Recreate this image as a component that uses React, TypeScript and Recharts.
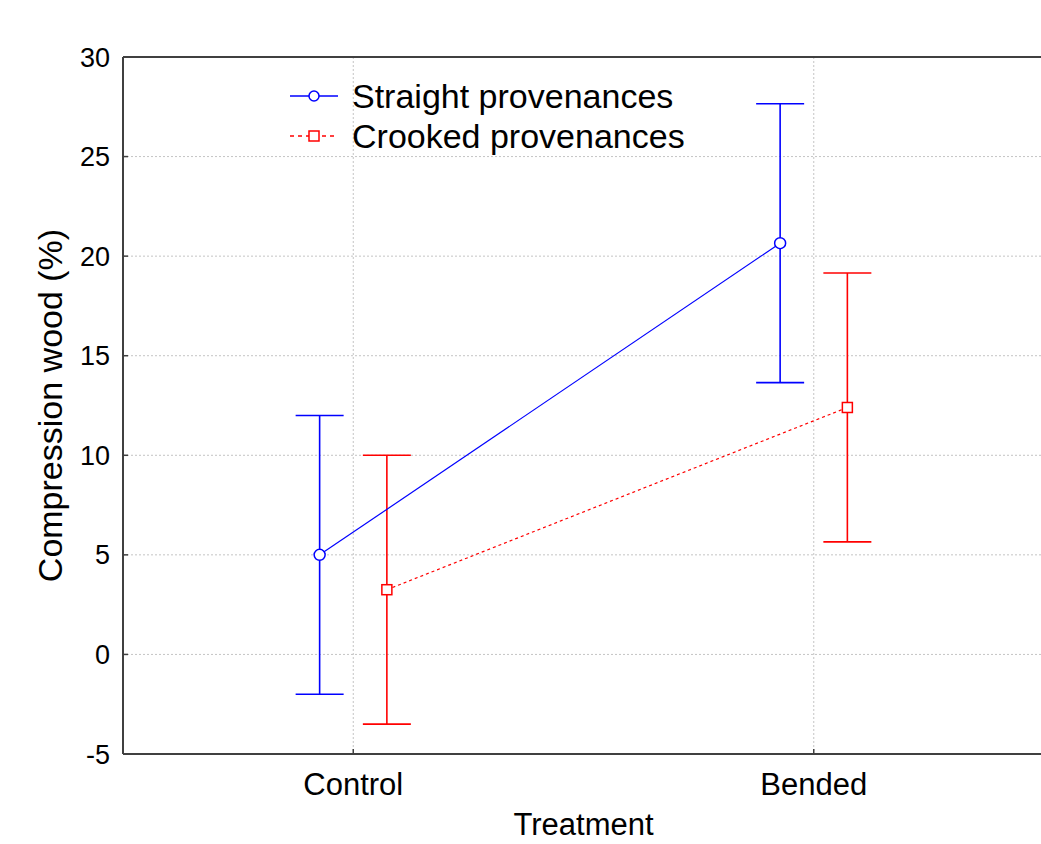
import { CartesianGrid, ComposedChart, ErrorBar, ReferenceLine, Scatter, XAxis, YAxis } from "recharts"

const categories = ["Control", "Bended"]
const straightMeans = [5.0, 20.65]
const straightErr = [7.0, 7.0]
const crookedMeans = [3.25, 12.4]
const crookedErr = [6.75, 6.75]
const yTicks = [-5, 0, 5, 10, 15, 20, 25, 30]
const dodge = 0.073

const straight = categories.map((c, i) => ({ name: c, x: i - dodge, y: straightMeans[i], err: straightErr[i] }))
const crooked = categories.map((c, i) => ({ name: c, x: i + dodge, y: crookedMeans[i], err: crookedErr[i] }))

const BLUE = "#0000ff"
const RED = "#ff0000"
const FONT = "'Liberation Sans', Arial, sans-serif"

const Circle = (props: any) => (
  <circle cx={props.cx} cy={props.cy} r={5.5} fill="#fff" stroke={BLUE} strokeWidth={1.5} />
)
const Square = (props: any) => (
  <rect x={props.cx - 5} y={props.cy - 5} width={10} height={10} fill="#fff" stroke={RED} strokeWidth={1.5} />
)

// legend sits inside the plot, top-left, like the original
function LegendBox() {
  return (
    <svg width={440} height={90} style={{ fontFamily: FONT, position: "absolute", left: 285, top: 74 }}>
      <line x1={5} y1={22} x2={53} y2={22} stroke={BLUE} strokeWidth={1.5} />
      <circle cx={29} cy={22} r={5} fill="#fff" stroke={BLUE} strokeWidth={1.5} />
      <text x={67} y={34} fontSize={34} fill="#000">Straight provenances</text>
      <line x1={5} y1={62} x2={53} y2={62} stroke={RED} strokeWidth={1.5} strokeDasharray="4 4" />
      <rect x={24} y={57} width={10} height={10} fill="#fff" stroke={RED} strokeWidth={1.5} />
      <text x={67} y={74} fontSize={34} fill="#000">Crooked provenances</text>
    </svg>
  )
}

export default function App() {
  return (
    <div style={{ position: "absolute", left: 0, top: 0, width: 1041, height: 844, overflow: "hidden", background: "#fff" }}>
      <ComposedChart width={1044} height={870} margin={{ top: 57, right: 0, bottom: 0, left: 0 }}>
        <CartesianGrid stroke="#c4c4c4" strokeDasharray="2 2" />
        <XAxis
          dataKey="x"
          type="number"
          domain={[-0.5, 1.5]}
          ticks={[0, 1]}
          tickFormatter={(v: number) => categories[v]}
          height={116}
          tickSize={-5}
          tickMargin={24}
          axisLine={{ stroke: "#404040", strokeWidth: 2 }}
          tickLine={{ stroke: "#404040", strokeWidth: 1.5 }}
          tick={{ fontSize: 31, fill: "#000", fontFamily: FONT }}
          label={{ value: "Treatment", position: "insideBottom", offset: 35, fontSize: 31, fill: "#000", fontFamily: FONT }}
          allowDataOverflow
        />
        <YAxis
          dataKey="y"
          type="number"
          domain={[-5, 30]}
          ticks={yTicks}
          width={123}
          tickSize={-5}
          tickMargin={18}
          axisLine={{ stroke: "#404040", strokeWidth: 2 }}
          tickLine={{ stroke: "#404040", strokeWidth: 1.5 }}
          tick={{ fontSize: 27, fill: "#000", fontFamily: FONT }}
          label={{
            value: "Compression wood (%)",
            angle: -90,
            position: "insideLeft",
            offset: 50,
            fontSize: 34,
            fill: "#000",
            fontFamily: FONT,
            style: { textAnchor: "middle" },
          }}
        />
        <ReferenceLine y={30} stroke="#404040" strokeWidth={2} />
        <Scatter
          name="Straight provenances"
          data={straight}
          line={{ stroke: BLUE, strokeWidth: 1.2 }}
          lineType="joint"
          shape={Circle}
          isAnimationActive={false}
        >
          <ErrorBar dataKey="err" direction="y" width={24} stroke={BLUE} strokeWidth={1.6} />
        </Scatter>
        <Scatter
          name="Crooked provenances"
          data={crooked}
          line={{ stroke: RED, strokeWidth: 1.2, strokeDasharray: "3 3" }}
          lineType="joint"
          shape={Square}
          isAnimationActive={false}
        >
          <ErrorBar dataKey="err" direction="y" width={24} stroke={RED} strokeWidth={1.6} />
        </Scatter>
      </ComposedChart>
      <LegendBox />
    </div>
  )
}
